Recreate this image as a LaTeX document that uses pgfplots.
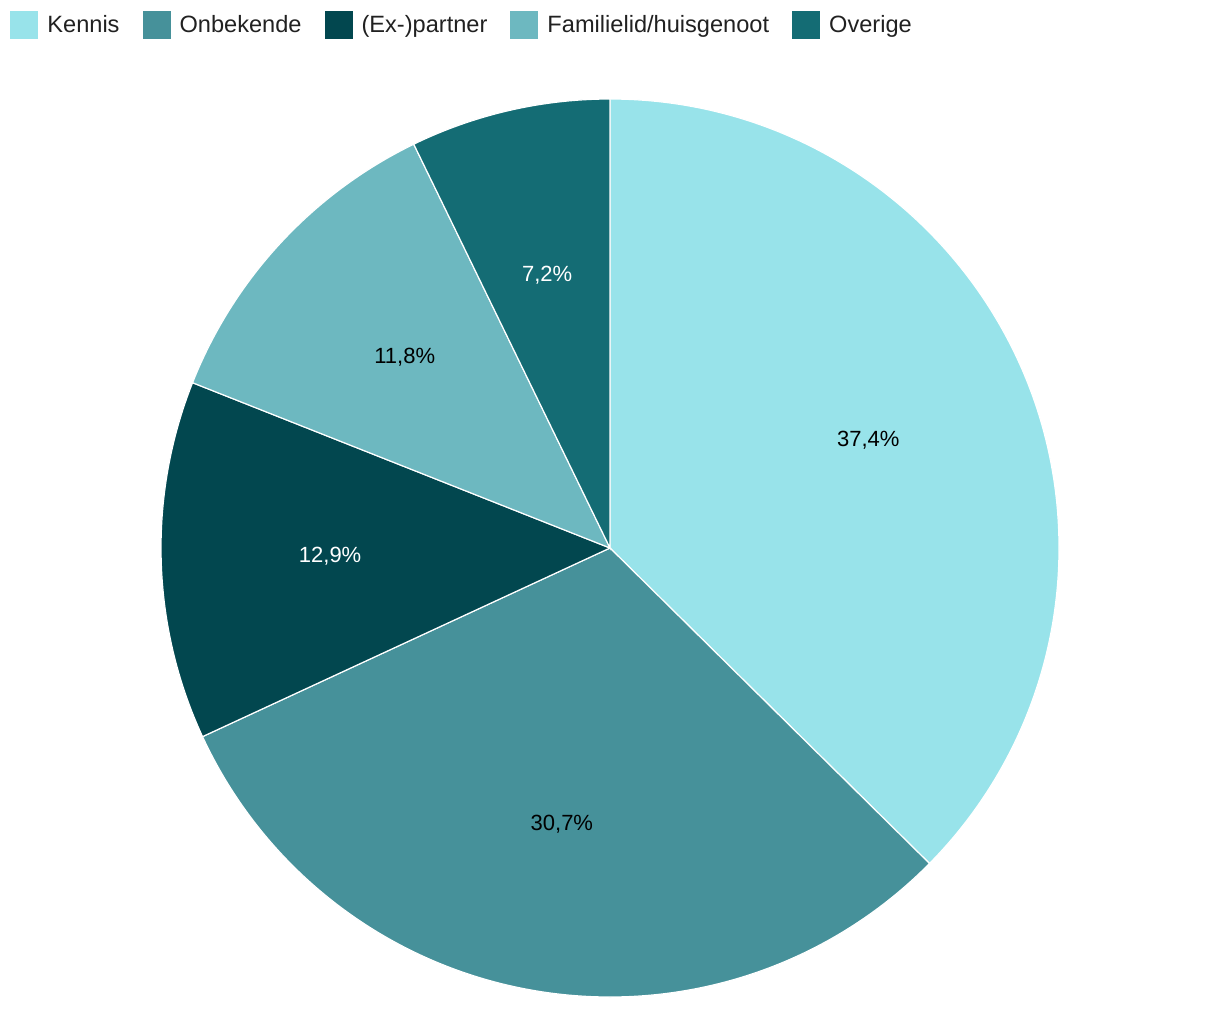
\documentclass[border=0pt]{standalone}
\usepackage{pgfplots}
\pgfplotsset{compat=1.18}
\usepackage{fontspec}
\setmainfont{Liberation Sans}

\definecolor{kennis}{HTML}{98E3EA}
\definecolor{onbekende}{HTML}{46919A}
\definecolor{partner}{HTML}{02474F}
\definecolor{familie}{HTML}{6DB8C0}
\definecolor{overige}{HTML}{146C74}
\definecolor{legtext}{HTML}{212121}

\begin{document}
\begin{tikzpicture}
% shares in percent, clockwise from 12 o'clock
\def\vA{37.4}\def\vB{30.7}\def\vC{12.9}\def\vD{11.8}\def\vE{7.2}
\pgfmathsetmacro{\aA}{90}
\pgfmathsetmacro{\aB}{\aA-3.6*\vA}
\pgfmathsetmacro{\aC}{\aB-3.6*\vB}
\pgfmathsetmacro{\aD}{\aC-3.6*\vC}
\pgfmathsetmacro{\aE}{\aD-3.6*\vD}
\pgfmathsetmacro{\aF}{\aE-3.6*\vE}
\pgfmathsetmacro{\mA}{(\aA+\aB)/2}
\pgfmathsetmacro{\mB}{(\aB+\aC)/2}
\pgfmathsetmacro{\mC}{(\aC+\aD)/2}
\pgfmathsetmacro{\mD}{(\aD+\aE)/2}
\pgfmathsetmacro{\mE}{(\aE+\aF)/2}
\def\R{224.5pt}
\def\L{140pt}
\begin{axis}[
    scale only axis,
    width=610pt, height=504pt,
    xmin=0, xmax=1220, ymin=0, ymax=1008,
    y dir=reverse,
    hide axis, clip=false,
    legend columns=5,
    legend image code/.code={\fill[#1] (0pt,-7pt) rectangle (14pt,7pt);},
    legend cell align=left,
    legend style={at={(axis cs:10,11)}, anchor=north west,
        draw=none, fill=none, inner sep=0pt,
        font=\fontsize{11.8}{13}\selectfont, text=legtext,
        /tikz/every odd column/.append style={column sep=2.5pt},
        /tikz/every even column/.append style={column sep=9.5pt}},
]
\path (axis cs:0,0) rectangle (axis cs:1220,1008);
\addlegendimage{fill=kennis, draw=none}\addlegendentry{Kennis}
\addlegendimage{fill=onbekende, draw=none}\addlegendentry{Onbekende}
\addlegendimage{fill=partner, draw=none}\addlegendentry{(Ex-)partner}
\addlegendimage{fill=familie, draw=none}\addlegendentry{Familielid/huisgenoot}
\addlegendimage{fill=overige, draw=none}\addlegendentry{Overige}

\fill[kennis, draw=white, line width=0.6pt] (axis cs:610,548) -- ++(\aA:\R) arc[start angle=\aA, end angle=\aB, radius=\R] -- cycle;
\fill[onbekende, draw=white, line width=0.6pt] (axis cs:610,548) -- ++(\aB:\R) arc[start angle=\aB, end angle=\aC, radius=\R] -- cycle;
\fill[partner, draw=white, line width=0.6pt] (axis cs:610,548) -- ++(\aC:\R) arc[start angle=\aC, end angle=\aD, radius=\R] -- cycle;
\fill[familie, draw=white, line width=0.6pt] (axis cs:610,548) -- ++(\aD:\R) arc[start angle=\aD, end angle=\aE, radius=\R] -- cycle;
\fill[overige, draw=white, line width=0.6pt] (axis cs:610,548) -- ++(\aE:\R) arc[start angle=\aE, end angle=\aF, radius=\R] -- cycle;

\path[font=\fontsize{11}{12}\selectfont]
  (axis cs:610,548) ++(\mA:\L) node[text=black] {37,4\%}
  (axis cs:610,548) ++(\mB:\L) node[text=black] {30,7\%}
  (axis cs:610,548) ++(\mC:\L) node[text=white] {12,9\%}
  (axis cs:610,548) ++(\mD:\L) node[text=black] {11,8\%}
  (axis cs:610,548) ++(\mE:\L) node[text=white] {7,2\%};
\end{axis}
\end{tikzpicture}
\end{document}
